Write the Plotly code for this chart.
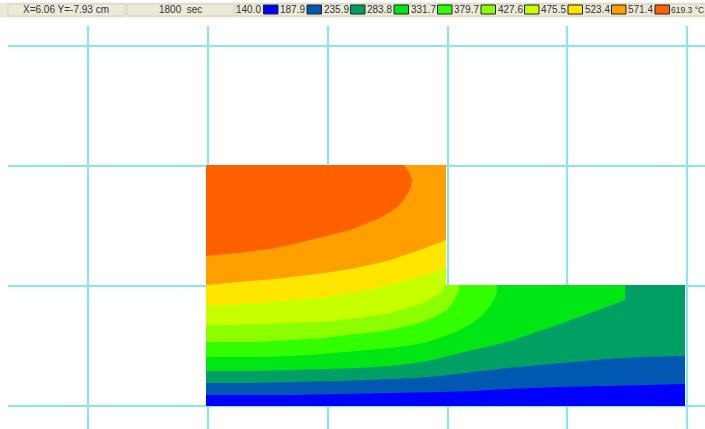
import plotly.graph_objects as go

# Legend
legend_levels = ["187.9", "235.9", "283.8", "331.7", "379.7", "427.6", "475.5", "523.4", "571.4", "619.3 °C"]
legend_start = "140.0"
status_position = "X=6.06 Y=-7.93 cm"
status_time = "1800  sec"
band_colors = ["#0000FF", "#0058B0", "#00A064", "#00E614", "#32FF00", "#8CFF00", "#C8FF00", "#FFE600", "#FFA000", "#FF6000"]

# Body outline (drawing units; one grid cell = 120 units)
outline_x = [-2, 238, 238, 477, 477, -2]
outline_y = [241, 241, 121, 121, 0, 0]

# Isotherms, each read from its end on the body's upper/right edge to the left edge
t619_x = [196, 201, 204, 203, 200, 192, 182, 172, 157, 142, 122, 102, 82, 62, 30, -2]
t619_y = [241, 234, 226, 219, 213, 201, 194, 188, 182, 176, 171, 166, 161, 157, 153, 150]
t571_x = [238, 225, 212, 197, 182, 162, 142, 117, 92, 67, 42, 20, -2]
t571_y = [166, 161, 156, 151, 146, 141, 137, 133, 130, 127, 125, 123, 121]
t523_x = [238, 232, 225, 212, 199, 184, 169, 142, 115, 82, 49, 24, -2]
t523_y = [138, 136, 133, 130, 126, 122, 118, 113, 109, 106, 103, 101, 100]
t475_x = [237, 235, 232, 224, 215, 199, 182, 149, 115, 82, 49, 24, -2]
t475_y = [121, 117, 113, 108, 103, 98, 93, 88, 84, 83, 82, 81, 81]
t427_x = [251, 251, 250, 245, 239, 228, 215, 199, 182, 149, 115, 82, 49, 24, -2]
t427_y = [121, 117, 113, 104, 96, 90, 84, 80, 76, 72, 68, 66, 64, 64, 64]
t379_x = [289, 289, 287, 282, 275, 264, 252, 242, 232, 215, 199, 182, 149, 115, 82, 49, 24, -2]
t379_y = [121, 114, 108, 100, 91, 83, 76, 72, 68, 63, 60, 58, 55, 52, 50, 49, 49, 49]
t331_x = [417, 417, 382, 349, 299, 265, 248, 232, 215, 199, 182, 149, 115, 82, 41, -2]
t331_y = [121, 106, 93, 81, 64, 56, 52, 48, 44, 42, 40, 38, 37, 36, 35, 35]
t283_x = [477, 432, 399, 365, 332, 299, 265, 232, 207, 182, 132, 82, 41, -2]
t283_y = [50, 49, 47, 44, 41, 38, 34, 30, 28, 27, 25, 24, 23, 23]
t235_x = [477, 399, 349, 299, 265, 232, 182, 132, 82, 41, -2]
t235_y = [22, 20, 19, 17, 15, 14, 13, 12, 11, 11, 11]

isotherms = [
    (t235_x, t235_y), (t283_x, t283_y), (t331_x, t331_y), (t379_x, t379_y), (t427_x, t427_y),
    (t475_x, t475_y), (t523_x, t523_y), (t571_x, t571_y), (t619_x, t619_y),
]

W, H = 705, 429
LEFT, TOP = 8, 26
GRID = "#84E8EC"
XW, XL, XR = outline_x[0], outline_x[1], outline_x[3]
YT, YM = outline_y[0], outline_y[2]

fig = go.Figure()
# Whole body in the warmest colour, then each cooler region painted below its isotherm
fig.add_trace(go.Scatter(x=outline_x, y=outline_y, fill="toself", fillcolor=band_colors[-1],
                         mode="none", hoverinfo="skip", showlegend=False))
for k, (cx, cy) in reversed(list(enumerate(isotherms))):
    ex, ey = cx[0], cy[0]
    # The outline walked from the bottom-right corner back to the isotherm's start
    if ey == YT:
        rim_x, rim_y = [XR, XL, XL], [YM, YM, YT]
    elif ex <= XL:
        rim_x, rim_y = [XR, XL], [YM, YM]
    elif ey == YM:
        rim_x, rim_y = [XR], [YM]
    else:
        rim_x, rim_y = [], []
    fig.add_trace(go.Scatter(x=list(cx) + [XW, XR] + rim_x,
                             y=list(cy) + [0, 0] + rim_y,
                             fill="toself", fillcolor=band_colors[k], mode="none",
                             hoverinfo="skip", showlegend=False))

shapes, annotations = [], []


def rect(x0, y0, x1, y1, fill, line=None):
    shapes.append(dict(type="rect", xref="paper", yref="paper", layer="above",
                       x0=x0 / W, x1=x1 / W, y0=1 - y1 / H, y1=1 - y0 / H,
                       fillcolor=fill, line=dict(color=line or fill, width=1)))


def text(x, y, s, anchor="left", size=10):
    annotations.append(dict(xref="paper", yref="paper", x=x / W, y=1 - y / H, text=s, showarrow=False,
                            xanchor=anchor, yanchor="middle", borderpad=0, borderwidth=0,
                            font=dict(family="Liberation Sans", size=size, color="#333333")))


rect(0, 3, W, 17, "#ECE9D8")
for x0, x1 in [(8, 125), (127, 234), (236, W + 2)]:
    rect(x0, 4, x1, 16, "#ECE9D8", "#D6D3C4")
text(66, 10, status_position, "center")
text(180, 10, status_time, "center")
text(236, 10, legend_start)
last = len(legend_levels) - 1
for i, (lab, col) in enumerate(zip(legend_levels, band_colors)):
    sx = 263.5 + i * 43.5
    rect(sx, 5, sx + 14.5, 14, col, "#222222")
    if i == last:
        text(W - 1, 10, lab, anchor="right", size=8.5)
    else:
        text(sx + 16.5, 10, lab)

fig.update_layout(
    width=W, height=H, margin=dict(l=0, r=0, t=0, b=0, pad=0), autosize=False,
    paper_bgcolor="white", plot_bgcolor="white", showlegend=False,
    shapes=shapes, annotations=annotations,
    xaxis=dict(domain=[LEFT / W, 1], range=[LEFT - 208, W - 208], tick0=0, dtick=119.8, showgrid=True,
               gridcolor=GRID, gridwidth=2, zeroline=False, showticklabels=False, ticks="", showline=False),
    yaxis=dict(domain=[0, 1 - TOP / H], range=[406 - H, 406 - TOP], tick0=0, dtick=120, showgrid=True,
               gridcolor=GRID, gridwidth=2, zeroline=False, showticklabels=False, ticks="", showline=False),
)
fig.write_html("out.html", config={"displayModeBar": False},
               post_script="document.body.style.margin='0';document.body.style.overflow='hidden';")
